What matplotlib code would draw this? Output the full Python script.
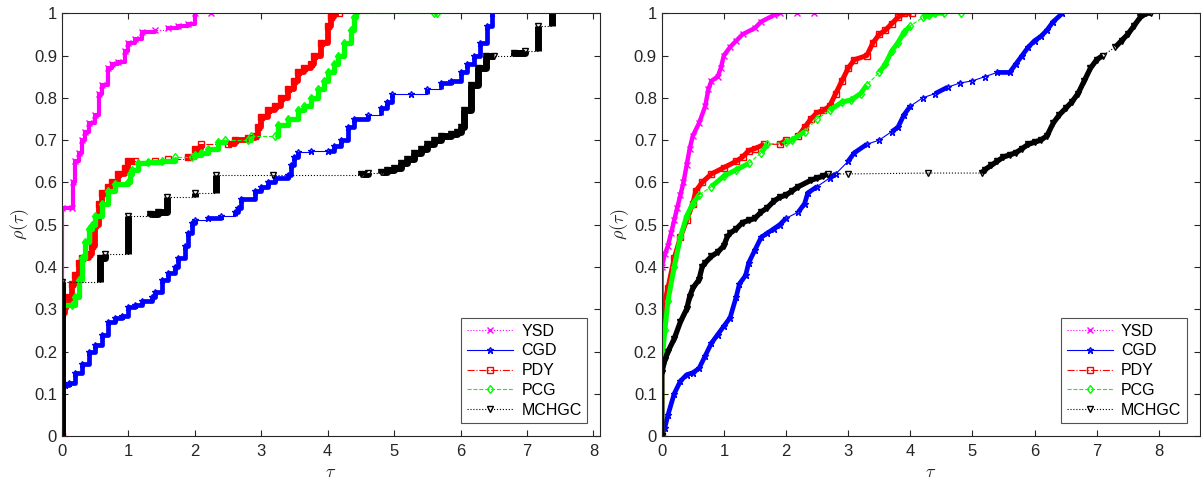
import numpy as np
import matplotlib
matplotlib.use('Agg')
import matplotlib.pyplot as plt

plt.rcParams['font.family'] = ['Liberation Sans', 'DejaVu Sans']
plt.rcParams['mathtext.fontset'] = 'cm'

solvers = ['YSD', 'CGD', 'PDY', 'PCG', 'MCHGC']

# ---- left panel (tau, rho) ----
left_ysd_tau = [0.0, 0.0, 0.15, 0.17, 0.2, 0.25, 0.3, 0.35, 0.4, 0.5, 0.55, 0.6, 0.7, 0.75, 0.85, 0.95, 1.0, 1.1,
                1.2, 1.4, 1.6, 1.75, 1.9, 2.0, 2.25]
left_ysd_rho = [0.0, 0.54, 0.54, 0.6, 0.65, 0.67, 0.7, 0.72, 0.74, 0.76, 0.81, 0.83, 0.87, 0.88, 0.885, 0.91, 0.93,
                0.94, 0.955, 0.96, 0.965, 0.97, 0.975, 1.0, 1.0]

left_cgd_tau = [0.05, 0.1, 0.2, 0.3, 0.4, 0.5, 0.6, 0.7, 0.8, 0.9, 1.0, 1.1, 1.2, 1.35, 1.4, 1.5, 1.6, 1.7, 1.75,
                1.85, 1.9, 1.95, 2.0, 2.2, 2.4, 2.6, 2.65, 2.7, 2.9, 3.0, 3.1, 3.2, 3.4, 3.45, 3.5, 3.55, 3.75, 4.0,
                4.1, 4.2, 4.3, 4.4, 4.6, 4.8, 4.9, 4.97, 5.25, 5.5, 5.7, 5.85, 6.0, 6.1, 6.2, 6.3, 6.4, 6.48]
left_cgd_rho = [0.12, 0.125, 0.15, 0.17, 0.2, 0.215, 0.24, 0.27, 0.28, 0.285, 0.305, 0.31, 0.32, 0.33, 0.34, 0.37,
                0.385, 0.4, 0.42, 0.45, 0.48, 0.505, 0.51, 0.515, 0.52, 0.53, 0.54, 0.56, 0.58, 0.59, 0.6, 0.61,
                0.617, 0.64, 0.66, 0.673, 0.675, 0.675, 0.685, 0.7, 0.73, 0.75, 0.76, 0.775, 0.79, 0.81, 0.81,
                0.82, 0.835, 0.84, 0.86, 0.88, 0.9, 0.93, 0.97, 1.0]

left_pdy_tau = [0.0, 0.0, 0.05, 0.1, 0.15, 0.2, 0.25, 0.3, 0.4, 0.45, 0.5, 0.55, 0.6, 0.7, 0.75, 0.85, 0.95, 1.0,
                1.1, 1.4, 1.6, 1.9, 2.0, 2.1, 2.5, 2.6, 2.8, 2.9, 2.95, 3.0, 3.1, 3.2, 3.3, 3.4, 3.5, 3.55, 3.65,
                3.75, 3.8, 3.9, 4.0, 4.05, 4.1, 4.17]
left_pdy_rho = [0.0, 0.29, 0.31, 0.33, 0.36, 0.38, 0.41, 0.42, 0.43, 0.45, 0.5, 0.55, 0.575, 0.59, 0.6, 0.62, 0.635,
                0.65, 0.65, 0.65, 0.655, 0.66, 0.68, 0.69, 0.69, 0.7, 0.705, 0.71, 0.73, 0.755, 0.77, 0.78, 0.8,
                0.82, 0.84, 0.86, 0.87, 0.88, 0.9, 0.93, 0.97, 0.99, 1.0, 1.0]

left_pcg_tau = [0.0, 0.0, 0.15, 0.2, 0.25, 0.3, 0.35, 0.4, 0.45, 0.5, 0.6, 0.7, 0.8, 1.0, 1.02, 1.05, 1.15, 1.3,
                1.5, 1.7, 1.95, 2.0, 2.1, 2.2, 2.35, 2.45, 2.8, 2.85, 3.2, 3.25, 3.4, 3.55, 3.65, 3.75, 3.85, 3.95,
                4.0, 4.1, 4.15, 4.25, 4.35, 4.4, 4.42, 5.6, 5.65]
left_pcg_rho = [0.0, 0.31, 0.31, 0.33, 0.37, 0.42, 0.46, 0.49, 0.5, 0.52, 0.55, 0.58, 0.595, 0.6, 0.62, 0.63, 0.645,
                0.648, 0.65, 0.66, 0.66, 0.665, 0.67, 0.68, 0.695, 0.7, 0.7, 0.71, 0.71, 0.735, 0.75, 0.77, 0.78,
                0.8, 0.82, 0.84, 0.86, 0.88, 0.9, 0.93, 0.96, 0.99, 1.0, 1.0, 1.0]

left_mch_tau = [0.0, 0.0, 0.58, 0.65, 1.0, 1.32, 1.45, 1.58, 2.0, 2.32, 3.17, 4.5, 4.6, 4.8, 4.9, 5.0, 5.1, 5.2,
                5.3, 5.4, 5.5, 5.6, 5.7, 5.85, 5.95, 6.0, 6.05, 6.16, 6.27, 6.38, 6.51, 6.8, 6.97, 7.17, 7.38]
left_mch_rho = [0.0, 0.365, 0.42, 0.43, 0.52, 0.525, 0.53, 0.565, 0.575, 0.618, 0.618, 0.62, 0.623, 0.625, 0.63,
                0.635, 0.645, 0.655, 0.67, 0.68, 0.69, 0.7, 0.71, 0.715, 0.72, 0.73, 0.77, 0.83, 0.87, 0.9, 0.9,
                0.905, 0.91, 0.97, 1.0]

# ---- right panel (tau, rho) ----
right_ysd_tau = [0.0, 0.0, 0.05, 0.1, 0.15, 0.2, 0.25, 0.3, 0.35, 0.4, 0.45, 0.5, 0.6, 0.7, 0.75, 0.8, 0.9, 0.95,
                 1.0, 1.1, 1.2, 1.3, 1.5, 1.6, 1.8, 1.9, 2.17, 2.45]
right_ysd_rho = [0.0, 0.4, 0.43, 0.45, 0.48, 0.51, 0.54, 0.57, 0.6, 0.64, 0.68, 0.71, 0.74, 0.78, 0.82, 0.84, 0.85,
                 0.87, 0.9, 0.92, 0.935, 0.95, 0.965, 0.98, 0.995, 1.0, 1.0, 1.0]

right_cgd_tau = [0.0, 0.05, 0.1, 0.2, 0.3, 0.4, 0.5, 0.6, 0.7, 0.8, 0.9, 1.0, 1.1, 1.2, 1.25, 1.35, 1.4, 1.5, 1.6,
                 1.7, 1.8, 1.9, 2.0, 2.2, 2.3, 2.35, 2.5, 2.7, 2.8, 3.0, 3.1, 3.3, 3.5, 3.7, 3.8, 3.9, 4.0, 4.2,
                 4.4, 4.6, 4.8, 5.0, 5.2, 5.4, 5.6, 5.7, 5.8, 5.9, 6.0, 6.1, 6.2, 6.3, 6.45]
right_cgd_rho = [0.0, 0.02, 0.05, 0.1, 0.13, 0.145, 0.15, 0.16, 0.19, 0.22, 0.24, 0.26, 0.28, 0.33, 0.36, 0.38,
                 0.41, 0.44, 0.47, 0.48, 0.49, 0.5, 0.515, 0.53, 0.55, 0.575, 0.59, 0.61, 0.62, 0.65, 0.67, 0.69,
                 0.7, 0.72, 0.73, 0.76, 0.78, 0.8, 0.81, 0.825, 0.835, 0.84, 0.85, 0.86, 0.86, 0.88, 0.9, 0.92,
                 0.935, 0.945, 0.96, 0.98, 1.0]

right_pdy_tau = [0.0, 0.0, 0.02, 0.1, 0.2, 0.3, 0.4, 0.5, 0.55, 0.65, 0.8, 1.0, 1.2, 1.3, 1.4, 1.5, 1.65, 1.9,
                 2.0, 2.2, 2.3, 2.4, 2.5, 2.6, 2.7, 2.8, 2.9, 3.0, 3.1, 3.3, 3.4, 3.5, 3.6, 3.7, 3.8, 3.9, 4.02]
right_pdy_rho = [0.0, 0.25, 0.3, 0.35, 0.42, 0.47, 0.51, 0.55, 0.58, 0.6, 0.62, 0.635, 0.65, 0.66, 0.675, 0.68,
                 0.69, 0.69, 0.7, 0.71, 0.73, 0.75, 0.765, 0.77, 0.78, 0.81, 0.84, 0.87, 0.89, 0.9, 0.93, 0.95,
                 0.96, 0.975, 0.99, 1.0, 1.0]

right_pcg_tau = [0.0, 0.0, 0.05, 0.1, 0.2, 0.3, 0.4, 0.5, 0.6, 0.8, 1.0, 1.2, 1.4, 1.6, 1.7, 2.0, 2.1, 2.3, 2.5,
                 2.7, 2.9, 3.05, 3.2, 3.3, 3.5, 3.6, 3.7, 3.8, 3.9, 4.0, 4.2, 4.3, 4.4, 4.55, 4.82]
right_pcg_rho = [0.0, 0.17, 0.25, 0.32, 0.4, 0.47, 0.52, 0.55, 0.57, 0.59, 0.615, 0.63, 0.645, 0.67, 0.69, 0.695,
                 0.7, 0.72, 0.75, 0.77, 0.79, 0.795, 0.81, 0.83, 0.86, 0.88, 0.91, 0.93, 0.955, 0.97, 0.99, 0.995,
                 1.0, 1.0, 1.0]

right_mch_tau = [0.0, 0.0, 0.05, 0.1, 0.2, 0.3, 0.4, 0.45, 0.5, 0.6, 0.65, 0.7, 0.8, 0.9, 1.0, 1.05, 1.1, 1.2,
                 1.3, 1.4, 1.5, 1.6, 1.7, 1.8, 1.9, 2.0, 2.1, 2.2, 2.4, 2.5, 2.6, 2.67, 3.0, 4.28, 5.15, 5.2, 5.3,
                 5.4, 5.5, 5.6, 5.7, 5.8, 5.9, 6.0, 6.1, 6.2, 6.3, 6.4, 6.5, 6.6, 6.7, 6.8, 6.9, 7.0, 7.1, 7.3,
                 7.4, 7.5, 7.6, 7.7, 7.8, 7.88]
right_mch_rho = [0.0, 0.15, 0.18, 0.2, 0.23, 0.27, 0.3, 0.33, 0.35, 0.37, 0.4, 0.41, 0.425, 0.435, 0.45, 0.47,
                 0.48, 0.49, 0.505, 0.51, 0.515, 0.53, 0.54, 0.555, 0.565, 0.57, 0.58, 0.59, 0.605, 0.61, 0.615,
                 0.62, 0.62, 0.622, 0.622, 0.63, 0.64, 0.65, 0.66, 0.665, 0.67, 0.68, 0.69, 0.695, 0.7, 0.71,
                 0.74, 0.76, 0.775, 0.79, 0.81, 0.84, 0.87, 0.89, 0.9, 0.92, 0.935, 0.95, 0.97, 0.99, 1.0, 1.0]

colors = ['#ff00ff', '#0000ff', '#ff0000', '#00ff00', '#000000']
styles = [':', '-', '-.', '--', ':']
markers = ['x', '*', 's', 'd', 'v']


def step_xy(t, r):
    xs, ys = [t[0]], [r[0]]
    for i in range(1, len(t)):
        xs.append(t[i]); ys.append(r[i - 1])
        xs.append(t[i]); ys.append(r[i])
    return np.array(xs), np.array(ys)


def draw_profile(ax, t, r, color, ls, mk, label, thick, stairs, gap=0.2):
    if stairs:
        px, py = step_xy(t, r)
        every = slice(0, None, 2)
    else:
        px, py = np.array(t), np.array(r)
        every = None
    ax.plot(px, py, ls=ls, color=color, lw=0.8, marker=mk, markevery=every,
            ms=4.5, mfc='none', mew=1.0, label=label)
    # dense stretches are drawn thick (overlapping markers in the original)
    tx, ty = [px[0]], [py[0]]
    for i in range(1, len(px)):
        if px[i] - px[i - 1] >= gap:
            tx.append(np.nan); ty.append(np.nan)
        tx.append(px[i]); ty.append(py[i])
    ax.plot(tx, ty, '-', color=color, lw=thick, solid_capstyle='butt', solid_joinstyle='round')


fig = plt.figure(figsize=(12.01, 4.9), dpi=100)
ax1 = fig.add_axes([0.0516, 0.110, 0.448, 0.863])
ax2 = fig.add_axes([0.551, 0.110, 0.448, 0.863])

left = [(left_ysd_tau, left_ysd_rho), (left_cgd_tau, left_cgd_rho), (left_pdy_tau, left_pdy_rho),
        (left_pcg_tau, left_pcg_rho), (left_mch_tau, left_mch_rho)]
right = [(right_ysd_tau, right_ysd_rho), (right_cgd_tau, right_cgd_rho), (right_pdy_tau, right_pdy_rho),
         (right_pcg_tau, right_pcg_rho), (right_mch_tau, right_mch_rho)]
left_thick = [3.0, 3.4, 4.2, 3.8, 5.0]
right_thick = [3.2, 3.4, 3.6, 3.6, 3.8]

for ax, data, thick, xmax, stairs in [(ax1, left, left_thick, 8.1, True), (ax2, right, right_thick, 8.66, False)]:
    for (t, r), c, ls, mk, name, w in zip(data, colors, styles, markers, solvers, thick):
        draw_profile(ax, t, r, c, ls, mk, name, w, stairs)
    ax.set_xlim(0, xmax)
    ax.set_ylim(0, 1)
    ax.set_xticks(range(9))
    ax.set_yticks(np.arange(0, 1.01, 0.1))
    ax.set_yticklabels(['0', '0.1', '0.2', '0.3', '0.4', '0.5', '0.6', '0.7', '0.8', '0.9', '1'])
    ax.tick_params(direction='in', top=True, right=True, labelsize=12, colors='#262626', length=4)
    ax.tick_params(axis='x', pad=6)
    for s in ax.spines.values():
        s.set_color('#262626')
        s.set_linewidth(0.8)
    ax.set_xlabel(r'$\tau$', fontsize=13, color='#262626', labelpad=3)
    ax.set_ylabel(r'$\rho(\tau)$', fontsize=13, color='#262626', labelpad=2)
    leg = ax.legend(loc='lower right', fontsize=11.5, frameon=True, fancybox=False, edgecolor='#262626',
                    handlelength=2.9, handletextpad=0.5, borderaxespad=0.8, labelspacing=0.3, borderpad=0.35)
    leg.get_frame().set_linewidth(0.8)

fig.savefig('out.png', dpi=100)
